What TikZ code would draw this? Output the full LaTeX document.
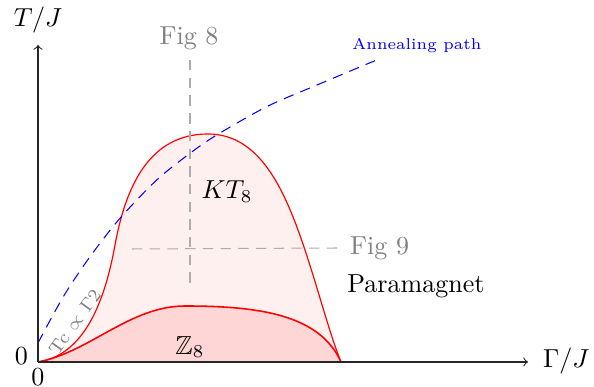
\documentclass[tikz,border=0pt]{standalone}
\usepackage{amssymb}
\begin{document}
\begin{tikzpicture}[x=0.384pt,y=-0.384pt,
  axis/.style={->,black!85},
  guide/.style={gray!65,dash pattern=on 4pt off 2.8pt},
  phase/.style={red,line width=0.45pt},
  gtext/.style={text=gray},
]
\useasboundingbox (0,0) rectangle (594,387);
\coordinate (O) at (38,362);
\coordinate (ytop) at (38,45);
\coordinate (xend) at (528,362);
\coordinate (E) at (341,362);
% regions
\def\outerpath{(O) .. controls (85,355) and (105,300) .. (115,245)
  .. controls (126,185) and (150,134) .. (208,134)
  .. controls (260,134) and (285,190) .. (305,250)
  .. controls (318,289) and (330,335) .. (E)}
\def\innerpath{(O) .. controls (90,352) and (130,306) .. (185,306)
  .. controls (260,306) and (320,315) .. (E)}
\fill[red!6] \outerpath -- cycle;
\fill[red!16] \innerpath -- cycle;
\draw[phase] \outerpath;
\draw[phase,line width=0.6pt] \innerpath;
% guides
\node[gtext] (fig8) at (189,38) {Fig 8};
\coordinate (v1) at (190,60);
\coordinate (v2) at (190,289);
\draw[guide] (v1) -- (v2);
\node[gtext,anchor=west] (fig9) at (341,248) {Fig 9};
\coordinate (h1) at (132,249);
\draw[guide] (h1) -- (fig9.west);
% annealing path
\draw[blue,dash pattern=on 4pt off 2.8pt] plot[smooth,tension=0.5] coordinates {(38,343) (63.3,296.7) (90,256.7) (120,218.3) (156.7,180) (190,153.3) (216.7,135) (266.7,106.7) (313,86.7) (375,60.7)};
\node[blue,font=\fontsize{6}{7}\selectfont] (anneal) at (417,46) {Annealing path};
% axes
\draw[axis] (O) -- (ytop);
\draw[axis] (O) -- (xend);
\node (ylab) at (38,20) {$T/J$};
\node[anchor=west] (xlab) at (534,361) {$\Gamma/J$};
\node[anchor=east] (zl) at (37,356) {0};
\node (zb) at (38,377) {0};
% labels
\node (kt) at (227,192) {$KT_8$};
\node (z8) at (190,347) {$\mathbb{Z}_8$};
\node (para) at (416,286) {Paramagnet};
\node[gtext,font=\scriptsize,rotate=54,inner sep=1pt] (tc) at (75,322) {Tc $\propto$ $\Gamma$2};
\end{tikzpicture}
\end{document}
